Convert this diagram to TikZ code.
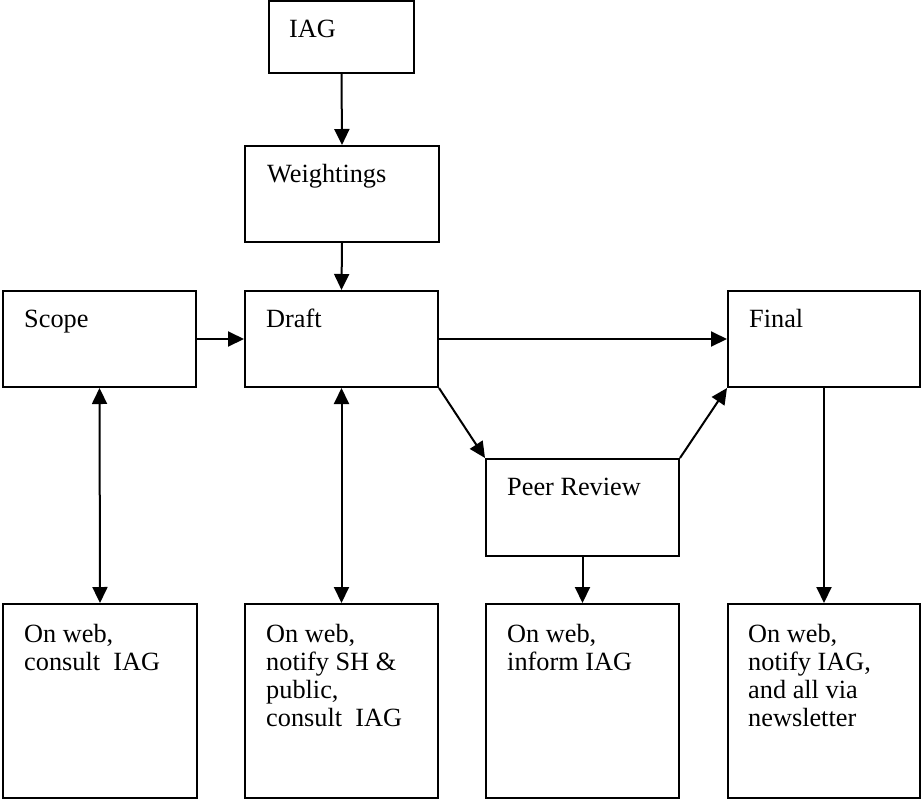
\documentclass[tikz,border=0pt]{standalone}
\usepackage{fontspec}
\setmainfont{Liberation Serif}
\usetikzlibrary{arrows.meta}
\begin{document}
\begin{tikzpicture}[x=1pt,y=-1pt,
  box/.style={draw=black,line width=2pt,rectangle,inner sep=0pt,fill=white},
  lbl/.style={anchor=base west,inner sep=0pt,align=left,font=\fontsize{26.3}{28}\selectfont},
  arr/.style={line width=2pt,-{Triangle[length=16pt,width=15pt]}},
  darr/.style={line width=2pt,{Triangle[length=16pt,width=15pt]}-{Triangle[length=16pt,width=15pt]}}]
\useasboundingbox (0,0) rectangle (921,801);
% boxes
\node[box,minimum width=145pt,minimum height=72pt] (iag) at (341.5,37) {};
\node[box,minimum width=194pt,minimum height=96pt] (wt) at (342,194) {};
\node[box,minimum width=193pt,minimum height=96pt] (scope) at (99.5,339) {};
\node[box,minimum width=193pt,minimum height=96pt] (draft) at (341.5,339) {};
\node[box,minimum width=192pt,minimum height=96pt] (final) at (824,339) {};
\node[box,minimum width=193pt,minimum height=97pt] (peer) at (582.5,507.5) {};
\node[box,minimum width=194pt,minimum height=194pt] (b1) at (100,701) {};
\node[box,minimum width=193pt,minimum height=194pt] (b2) at (341.5,701) {};
\node[box,minimum width=193pt,minimum height=194pt] (b3) at (582.5,701) {};
\node[box,minimum width=192pt,minimum height=194pt] (b4) at (824,701) {};
% labels (base anchor = baseline of the last line)
\node[lbl] (tiag) at (289,37) {IAG};
\node[lbl] (twt) at (267,182) {Weightings};
\node[lbl] (tscope) at (24,327) {Scope};
\node[lbl] (tdraft) at (266,327) {Draft};
\node[lbl] (tfinal) at (749,327) {Final};
\node[lbl] (tpeer) at (507,495) {Peer Review};
\node[lbl] (tb1) at (24,670) {On web,\\consult\ \ IAG};
\node[lbl] (tb2) at (266,726) {On web,\\notify SH \&\\public,\\consult\ \ IAG};
\node[lbl] (tb3) at (507,670) {On web,\\inform IAG};
\node[lbl] (tb4) at (748,726) {On web,\\notify IAG,\\and all via\\newsletter};
% connectors
\draw[arr] (iag.south) -- (wt.north);
\draw[arr] (wt.south) -- (draft.north);
\draw[arr] (scope.east) -- (draft.west);
\draw[arr] (draft.east) -- (final.west);
\draw[arr] (draft.south east) -- (peer.north west);
\draw[arr] (peer.north east) -- (final.south west);
\draw[darr] (scope.south) -- (b1.north);
\draw[darr] (draft.south) -- (b2.north);
\draw[arr] (peer.south) -- (b3.north);
\draw[arr] (final.south) -- (b4.north);
\end{tikzpicture}
\end{document}
